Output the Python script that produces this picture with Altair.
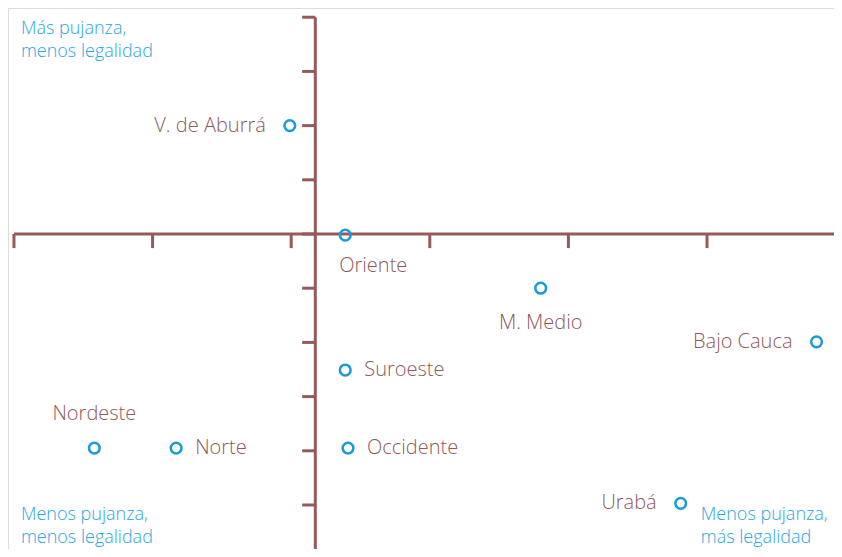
import altair as alt
import pandas as pd

# Region data (x: pujanza index, y: legalidad index)
regions = ["V. de Aburrá", "Oriente", "M. Medio", "Bajo Cauca", "Suroeste",
           "Occidente", "Nordeste", "Norte", "Urabá"]
x_vals = [-0.01, 0.39, 1.80, 3.79, 0.39, 0.41, -1.42, -0.83, 2.81]
y_vals = [2.00, -0.02, -1.00, -1.99, -2.51, -3.95, -3.95, -3.95, -4.97]

# label placement groups
labels_left = ["V. de Aburrá", "Bajo Cauca", "Urabá"]
labels_right = ["Suroeste", "Occidente", "Norte"]
labels_below = ["M. Medio"]
labels_below_right = ["Oriente"]
labels_above = ["Nordeste"]

# axis ticks
x_ticks = [-2, -1, 0, 1, 2, 3]
y_ticks = [4, 3, 2, 1, 0, -1, -2, -3, -4, -5]
y_axis_at = 0.174
x_axis_at = 0.0

# corner notes
notes = ["Más pujanza,\nmenos legalidad",
         "Menos pujanza,\nmenos legalidad",
         "Menos pujanza,\nmás legalidad"]
notes_x = [-1.95, -1.95, 2.955]
notes_y = [3.95, -5.02, -5.02]

X_DOMAIN = [-2.043, 3.916]
Y_DOMAIN = [-5.812, 4.170]
W, H = 826, 541

AXIS_COLOR = "#955a5c"
LABEL_COLOR = "#8c5a5c"
POINT_COLOR = "#1a9ad8"
NOTE_COLOR = "#2aa6de"
FONT = "Open Sans"

xs = alt.Scale(domain=X_DOMAIN, nice=False, zero=False)
ys = alt.Scale(domain=Y_DOMAIN, nice=False, zero=False)

df = pd.DataFrame({"region": regions, "x": x_vals, "y": y_vals})

# axis lines
xaxis_df = pd.DataFrame({"x": [x_ticks[0]], "x2": [X_DOMAIN[1]], "y": [x_axis_at]})
yaxis_df = pd.DataFrame({"y": [y_ticks[0]], "y2": [Y_DOMAIN[0]], "x": [y_axis_at]})
xtick_df = pd.DataFrame({"x": x_ticks, "y": [x_axis_at] * len(x_ticks),
                         "y2": [x_axis_at - 0.26] * len(x_ticks)})
ytick_df = pd.DataFrame({"y": y_ticks, "x": [y_axis_at] * len(y_ticks),
                         "x2": [y_axis_at - 0.095] * len(y_ticks)})

xaxis = alt.Chart(xaxis_df).mark_rule(color=AXIS_COLOR, strokeWidth=3).encode(
    x=alt.X("x:Q", scale=xs, axis=None), x2="x2:Q",
    y=alt.Y("y:Q", scale=ys, axis=None))
yaxis = alt.Chart(yaxis_df).mark_rule(color=AXIS_COLOR, strokeWidth=3).encode(
    y=alt.Y("y:Q", scale=ys, axis=None), y2="y2:Q",
    x=alt.X("x:Q", scale=xs, axis=None))
xticks = alt.Chart(xtick_df).mark_rule(color=AXIS_COLOR, strokeWidth=3).encode(
    x=alt.X("x:Q", scale=xs, axis=None),
    y=alt.Y("y:Q", scale=ys, axis=None), y2="y2:Q")
yticks = alt.Chart(ytick_df).mark_rule(color=AXIS_COLOR, strokeWidth=3).encode(
    y=alt.Y("y:Q", scale=ys, axis=None),
    x=alt.X("x:Q", scale=xs, axis=None), x2="x2:Q")

points = alt.Chart(df).mark_point(
    shape="circle", filled=False, color=POINT_COLOR, size=115, strokeWidth=2.5,
    opacity=1
).encode(x=alt.X("x:Q", scale=xs, axis=None), y=alt.Y("y:Q", scale=ys, axis=None))


def label_layer(names, **kw):
    return alt.Chart(df).transform_filter(
        alt.FieldOneOfPredicate(field="region", oneOf=names)
    ).mark_text(font=FONT, fontSize=20, fontWeight=300, color=LABEL_COLOR, **kw).encode(
        x=alt.X("x:Q", scale=xs, axis=None),
        y=alt.Y("y:Q", scale=ys, axis=None),
        text="region:N")


lab_left = label_layer(labels_left, align="right", baseline="middle", dx=-24)
lab_right = label_layer(labels_right, align="left", baseline="middle", dx=19)
lab_below = label_layer(labels_below, align="center", baseline="middle", dy=35)
lab_below_r = label_layer(labels_below_right, align="left", baseline="middle", dx=-6, dy=31)
lab_above = label_layer(labels_above, align="center", baseline="middle", dy=-34)

notes_df = pd.DataFrame({"note": notes, "x": notes_x, "y": notes_y})
notes_layer = alt.Chart(notes_df).transform_calculate(
    lines="split(datum.note, '\\n')"
).mark_text(font=FONT, fontSize=18, fontWeight=300, color=NOTE_COLOR,
            align="left", baseline="top", lineHeight=23).encode(
    x=alt.X("x:Q", scale=xs, axis=None),
    y=alt.Y("y:Q", scale=ys, axis=None),
    text="lines:N")

chart = alt.layer(
    xaxis, yaxis, xticks, yticks, points,
    lab_left, lab_right, lab_below, lab_below_r, lab_above, notes_layer
).properties(
    width=W, height=H,
    autosize=alt.AutoSizeParams(type="none"),
    padding=0
).configure_view(stroke="transparent", strokeWidth=0, clip=False).configure(background="transparent")

chart.save("out.html", embed_options={"renderer": "svg", "actions": False})
